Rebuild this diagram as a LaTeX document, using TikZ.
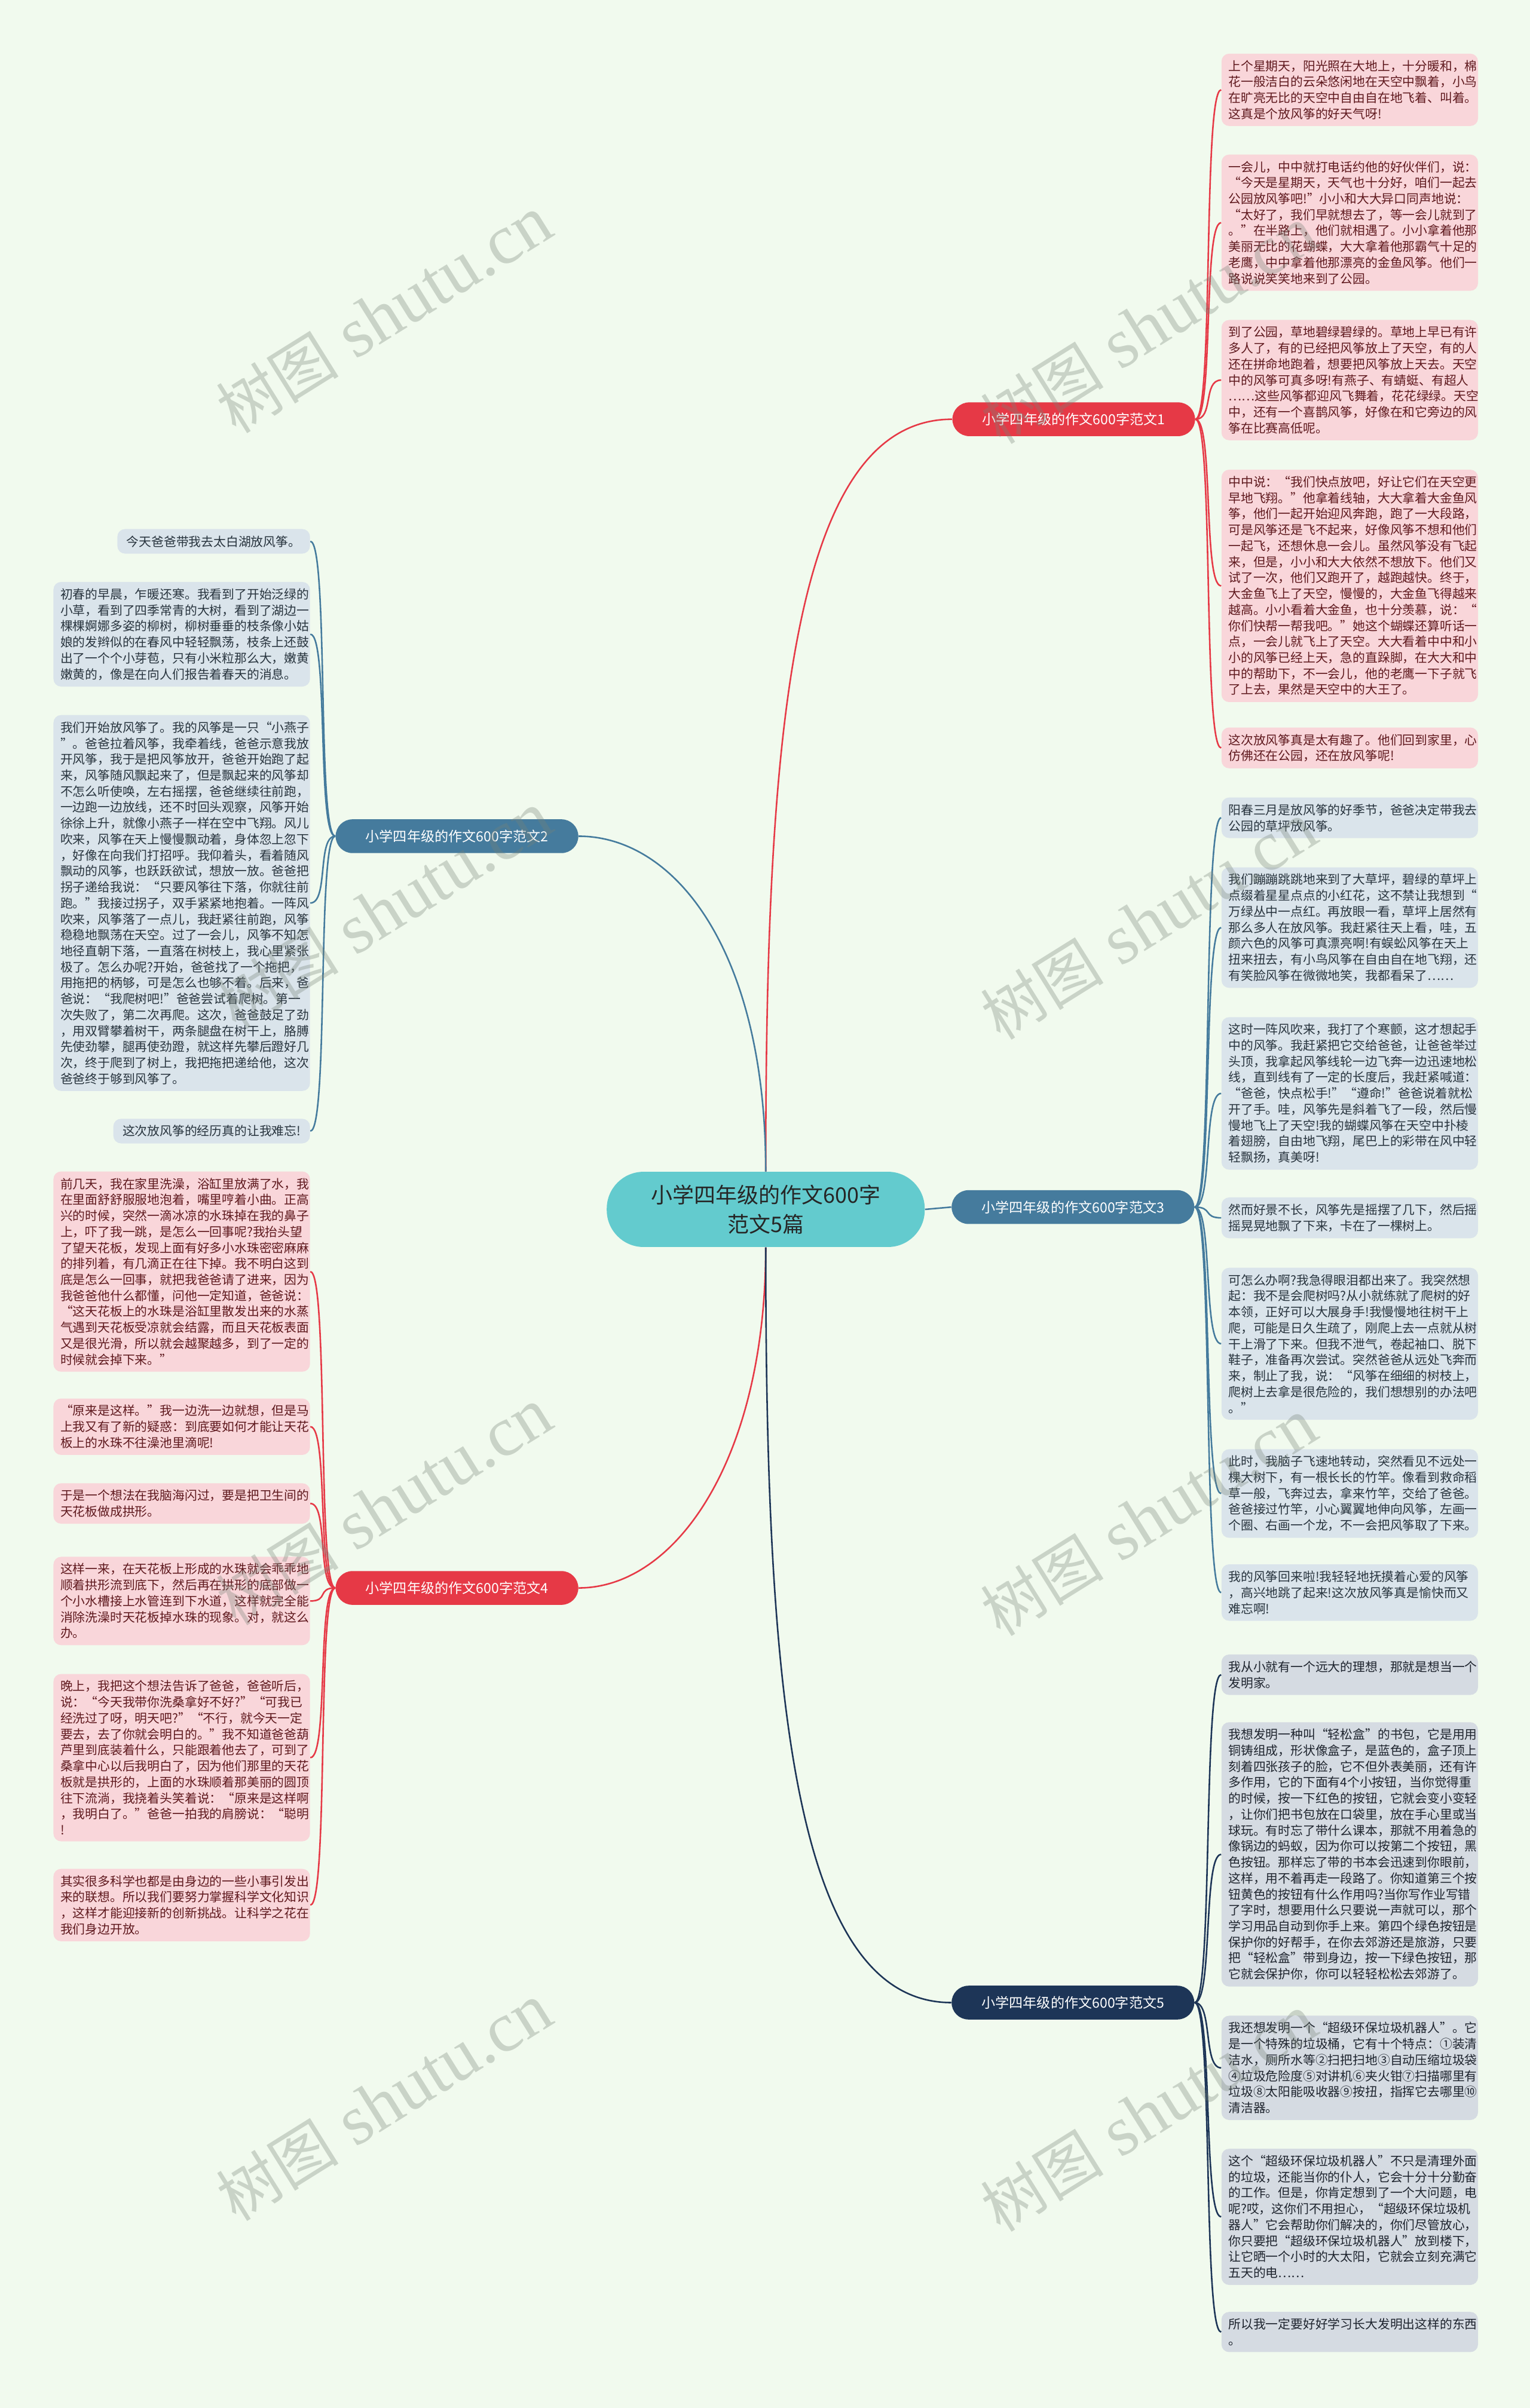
\documentclass[tikz,border=0pt]{standalone}
\usepackage{fontspec}
\setmainfont{Liberation Serif}
\newfontfamily\cjk{Noto Sans CJK SC}
\usetikzlibrary{backgrounds}
\definecolor{bgc}{RGB}{241,250,238}
\definecolor{redc}{RGB}{230,57,70}
\definecolor{bluec}{RGB}{69,123,157}
\definecolor{navyc}{RGB}{29,53,87}
\definecolor{tealc}{RGB}{99,203,206}
\definecolor{pinkfill}{RGB}{249,214,218}
\definecolor{bluefill}{RGB}{218,228,235}
\definecolor{grayfill}{RGB}{213,219,226}
\definecolor{pinktext}{RGB}{95,25,30}
\definecolor{bluetext}{RGB}{40,52,62}
\definecolor{graytext}{RGB}{30,36,46}
\definecolor{wmc}{RGB}{120,132,120}
\newcommand\leaffont{\cjk\fontsize{8.1pt}{10.4pt}\selectfont}
\tikzset{
  leafbase/.style={rounded corners=5pt, inner xsep=4.5pt, inner ysep=4.2pt, align=left, font=\leaffont},
  leafwide/.style={leafbase, text width=158pt},
  leafred/.style={leafwide, fill=pinkfill, text=pinktext},
  leafblue/.style={leafwide, fill=bluefill, text=bluetext},
  leafnavy/.style={leafwide, fill=grayfill, text=graytext},
  leafbluenarrow/.style={leafbase, inner xsep=6pt, fill=bluefill, text=bluetext},
  branchnode/.style={rounded corners=11pt, minimum width=158pt, minimum height=22pt, inner sep=0pt, text=white, font=\cjk\fontsize{9pt}{11pt}\selectfont},
  centernode/.style={rounded corners=24pt, minimum width=207pt, minimum height=49pt, inner sep=0pt, fill=tealc, text=black!85, align=center, font=\cjk\fontsize{14pt}{19pt}\selectfont},
  conn/.style={line width=1pt},
  wm/.style={rotate=32, text=wmc, opacity=0.33, font=\fontsize{46pt}{46pt}\selectfont}
}
\begin{document}
\begin{tikzpicture}[x=1pt,y=-1pt]
\useasboundingbox (0,0) rectangle (996,1568);
% center and branches
\node[centernode] (c) at (498.5,787.5) {小学四年级的作文600字\\范文5篇};
\node[branchnode, fill=redc] (b1) at (699,273) {小学四年级的作文600字范文1};
\node[branchnode, fill=bluec] (b2) at (297.5,544.5) {小学四年级的作文600字范文2};
\node[branchnode, fill=bluec] (b3) at (698.5,786) {小学四年级的作文600字范文3};
\node[branchnode, fill=redc] (b4) at (297.5,1034) {小学四年级的作文600字范文4};
\node[branchnode, fill=navyc] (b5) at (698.5,1304) {小学四年级的作文600字范文5};
% branch 1 leaves
\node[leafred, anchor=west] (r1a) at (795,58.5) {上个星期天，阳光照在大地上，十分暖和，棉\\花一般洁白的云朵悠闲地在天空中飘着，小鸟\\在旷亮无比的天空中自由自在地飞着、叫着。\\这真是个放风筝的好天气呀!};
\node[leafred, anchor=west] (r1b) at (795,145) {一会儿，中中就打电话约他的好伙伴们，说：\\“今天是星期天，天气也十分好，咱们一起去\\公园放风筝吧!”小小和大大异口同声地说：\\“太好了，我们早就想去了，等一会儿就到了\\。”在半路上，他们就相遇了。小小拿着他那\\美丽无比的花蝴蝶，大大拿着他那霸气十足的\\老鹰，中中拿着他那漂亮的金鱼风筝。他们一\\路说说笑笑地来到了公园。};
\node[leafred, anchor=west] (r1c) at (795,247.5) {到了公园，草地碧绿碧绿的。草地上早已有许\\多人了，有的已经把风筝放上了天空，有的人\\还在拼命地跑着，想要把风筝放上天去。天空\\中的风筝可真多呀!有燕子、有蜻蜓、有超人\\……这些风筝都迎风飞舞着，花花绿绿。天空\\中，还有一个喜鹊风筝，好像在和它旁边的风\\筝在比赛高低呢。};
\node[leafred, anchor=west] (r1d) at (795,381.5) {中中说：“我们快点放吧，好让它们在天空更\\早地飞翔。”他拿着线轴，大大拿着大金鱼风\\筝，他们一起开始迎风奔跑，跑了一大段路，\\可是风筝还是飞不起来，好像风筝不想和他们\\一起飞，还想休息一会儿。虽然风筝没有飞起\\来，但是，小小和大大依然不想放下。他们又\\试了一次，他们又跑开了，越跑越快。终于，\\大金鱼飞上了天空，慢慢的，大金鱼飞得越来\\越高。小小看着大金鱼，也十分羡慕，说：“\\你们快帮一帮我吧。”她这个蝴蝶还算听话一\\点，一会儿就飞上了天空。大大看着中中和小\\小的风筝已经上天，急的直跺脚，在大大和中\\中的帮助下，不一会儿，他的老鹰一下子就飞\\了上去，果然是天空中的大王了。};
\node[leafred, anchor=west] (r1e) at (795,487) {这次放风筝真是太有趣了。他们回到家里，心\\仿佛还在公园，还在放风筝呢!};
% branch 3 leaves
\node[leafblue, anchor=west] (r3a) at (795,532.5) {阳春三月是放风筝的好季节，爸爸决定带我去\\公园的草坪放风筝。};
\node[leafblue, anchor=west] (r3b) at (795,604) {我们蹦蹦跳跳地来到了大草坪，碧绿的草坪上\\点缀着星星点点的小红花，这不禁让我想到“\\万绿丛中一点红。再放眼一看，草坪上居然有\\那么多人在放风筝。我赶紧往天上看，哇，五\\颜六色的风筝可真漂亮啊!有蜈蚣风筝在天上\\扭来扭去，有小鸟风筝在自由自在地飞翔，还\\有笑脸风筝在微微地笑，我都看呆了……};
\node[leafblue, anchor=west] (r3c) at (795,712) {这时一阵风吹来，我打了个寒颤，这才想起手\\中的风筝。我赶紧把它交给爸爸，让爸爸举过\\头顶，我拿起风筝线轮一边飞奔一边迅速地松\\线，直到线有了一定的长度后，我赶紧喊道：\\“爸爸，快点松手!”“遵命!”爸爸说着就松\\开了手。哇，风筝先是斜着飞了一段，然后慢\\慢地飞上了天空!我的蝴蝶风筝在天空中扑棱\\着翅膀，自由地飞翔，尾巴上的彩带在风中轻\\轻飘扬，真美呀!};
\node[leafblue, anchor=west] (r3d) at (795,793) {然而好景不长，风筝先是摇摆了几下，然后摇\\摇晃晃地飘了下来，卡在了一棵树上。};
\node[leafblue, anchor=west] (r3e) at (795,875) {可怎么办啊?我急得眼泪都出来了。我突然想\\起：我不是会爬树吗?从小就练就了爬树的好\\本领，正好可以大展身手!我慢慢地往树干上\\爬，可能是日久生疏了，刚爬上去一点就从树\\干上滑了下来。但我不泄气，卷起袖口、脱下\\鞋子，准备再次尝试。突然爸爸从远处飞奔而\\来，制止了我，说：“风筝在细细的树枝上，\\爬树上去拿是很危险的，我们想想别的办法吧\\。”};
\node[leafblue, anchor=west] (r3f) at (795,972.5) {此时，我脑子飞速地转动，突然看见不远处一\\棵大树下，有一根长长的竹竿。像看到救命稻\\草一般，飞奔过去，拿来竹竿，交给了爸爸。\\爸爸接过竹竿，小心翼翼地伸向风筝，左画一\\个圈、右画一个龙，不一会把风筝取了下来。};
\node[leafblue, anchor=west] (r3g) at (795,1037) {我的风筝回来啦!我轻轻地抚摸着心爱的风筝\\，高兴地跳了起来!这次放风筝真是愉快而又\\难忘啊!};
% branch 5 leaves
\node[leafnavy, anchor=west] (r5a) at (795,1090.5) {我从小就有一个远大的理想，那就是想当一个\\发明家。};
\node[leafnavy, anchor=west] (r5b) at (795,1207.5) {我想发明一种叫“轻松盒”的书包，它是用用\\铜铸组成，形状像盒子，是蓝色的，盒子顶上\\刻着四张孩子的脸，它不但外表美丽，还有许\\多作用，它的下面有4个小按钮，当你觉得重\\的时候，按一下红色的按钮，它就会变小变轻\\，让你们把书包放在口袋里，放在手心里或当\\球玩。有时忘了带什么课本，那就不用着急的\\像锅边的蚂蚁，因为你可以按第二个按钮，黑\\色按钮。那样忘了带的书本会迅速到你眼前，\\这样，用不着再走一段路了。你知道第三个按\\钮黄色的按钮有什么作用吗?当你写作业写错\\了字时，想要用什么只要说一声就可以，那个\\学习用品自动到你手上来。第四个绿色按钮是\\保护你的好帮手，在你去郊游还是旅游，只要\\把“轻松盒”带到身边，按一下绿色按钮，那\\它就会保护你，你可以轻轻松松去郊游了。};
\node[leafnavy, anchor=west] (r5c) at (795,1346.5) {我还想发明一个“超级环保垃圾机器人”。它\\是一个特殊的垃圾桶，它有十个特点：①装清\\洁水，厕所水等②扫把扫地③自动压缩垃圾袋\\④垃圾危险度⑤对讲机⑥夹火钳⑦扫描哪里有\\垃圾⑧太阳能吸收器⑨按扭，指挥它去哪里⑩\\清洁器。};
\node[leafnavy, anchor=west] (r5d) at (795,1443.5) {这个“超级环保垃圾机器人”不只是清理外面\\的垃圾，还能当你的仆人，它会十分十分勤奋\\的工作。但是，你肯定想到了一个大问题，电\\呢?哎，这你们不用担心，“超级环保垃圾机\\器人”它会帮助你们解决的，你们尽管放心，\\你只要把“超级环保垃圾机器人”放到楼下，\\让它晒一个小时的大太阳，它就会立刻充满它\\五天的电……};
\node[leafnavy, anchor=west] (r5e) at (795,1518.5) {所以我一定要好好学习长大发明出这样的东西\\。};
% branch 2 leaves
\node[leafbluenarrow, anchor=east] (l2a) at (202,352.5) {今天爸爸带我去太白湖放风筝。};
\node[leafblue, anchor=east] (l2b) at (202,413) {初春的早晨，乍暖还寒。我看到了开始泛绿的\\小草，看到了四季常青的大树，看到了湖边一\\棵棵婀娜多姿的柳树，柳树垂垂的枝条像小姑\\娘的发辫似的在春风中轻轻飘荡，枝条上还鼓\\出了一个个小芽苞，只有小米粒那么大，嫩黄\\嫩黄的，像是在向人们报告着春天的消息。};
\node[leafblue, anchor=east] (l2c) at (202,588) {我们开始放风筝了。我的风筝是一只“小燕子\\”。爸爸拉着风筝，我牵着线，爸爸示意我放\\开风筝，我于是把风筝放开，爸爸开始跑了起\\来，风筝随风飘起来了，但是飘起来的风筝却\\不怎么听使唤，左右摇摆，爸爸继续往前跑，\\一边跑一边放线，还不时回头观察，风筝开始\\徐徐上升，就像小燕子一样在空中飞翔。风儿\\吹来，风筝在天上慢慢飘动着，身体忽上忽下\\，好像在向我们打招呼。我仰着头，看着随风\\飘动的风筝，也跃跃欲试，想放一放。爸爸把\\拐子递给我说：“只要风筝往下落，你就往前\\跑。”我接过拐子，双手紧紧地抱着。一阵风\\吹来，风筝落了一点儿，我赶紧往前跑，风筝\\稳稳地飘荡在天空。过了一会儿，风筝不知怎\\地径直朝下落，一直落在树枝上，我心里紧张\\极了。怎么办呢?开始，爸爸找了一个拖把，\\用拖把的柄够，可是怎么也够不着。后来，爸\\爸说：“我爬树吧!”爸爸尝试着爬树。第一\\次失败了，第二次再爬。这次，爸爸鼓足了劲\\，用双臂攀着树干，两条腿盘在树干上，胳膊\\先使劲攀，腿再使劲蹬，就这样先攀后蹬好几\\次，终于爬到了树上，我把拖把递给他，这次\\爸爸终于够到风筝了。};
\node[leafbluenarrow, anchor=east] (l2d) at (202,736.5) {这次放风筝的经历真的让我难忘!};
% branch 4 leaves
\node[leafred, anchor=east] (l4a) at (202,828) {前几天，我在家里洗澡，浴缸里放满了水，我\\在里面舒舒服服地泡着，嘴里哼着小曲。正高\\兴的时候，突然一滴冰凉的水珠掉在我的鼻子\\上，吓了我一跳，是怎么一回事呢?我抬头望\\了望天花板，发现上面有好多小水珠密密麻麻\\的排列着，有几滴正在往下掉。我不明白这到\\底是怎么一回事，就把我爸爸请了进来，因为\\我爸爸他什么都懂，问他一定知道，爸爸说：\\“这天花板上的水珠是浴缸里散发出来的水蒸\\气遇到天花板受凉就会结露，而且天花板表面\\又是很光滑，所以就会越聚越多，到了一定的\\时候就会掉下来。”};
\node[leafred, anchor=east] (l4b) at (202,929) {“原来是这样。”我一边洗一边就想，但是马\\上我又有了新的疑惑：到底要如何才能让天花\\板上的水珠不往澡池里滴呢!};
\node[leafred, anchor=east] (l4c) at (202,979) {于是一个想法在我脑海闪过，要是把卫生间的\\天花板做成拱形。};
\node[leafred, anchor=east] (l4d) at (202,1042.5) {这样一来，在天花板上形成的水珠就会乖乖地\\顺着拱形流到底下，然后再在拱形的底部做一\\个小水槽接上水管连到下水道，这样就完全能\\消除洗澡时天花板掉水珠的现象。对，就这么\\办。};
\node[leafred, anchor=east] (l4e) at (202,1144.5) {晚上，我把这个想法告诉了爸爸，爸爸听后，\\说：“今天我带你洗桑拿好不好?”“可我已\\经洗过了呀，明天吧?”“不行，就今天一定\\要去，去了你就会明白的。”我不知道爸爸葫\\芦里到底装着什么，只能跟着他去了，可到了\\桑拿中心以后我明白了，因为他们那里的天花\\板就是拱形的，上面的水珠顺着那美丽的圆顶\\往下流淌，我挠着头笑着说：“原来是这样啊\\，我明白了。”爸爸一拍我的肩膀说：“聪明\\!};
\node[leafred, anchor=east] (l4f) at (202,1240.5) {其实很多科学也都是由身边的一些小事引发出\\来的联想。所以我们要努力掌握科学文化知识\\，这样才能迎接新的创新挑战。让科学之花在\\我们身边开放。};
\begin{pgfonlayer}{background}
\fill[bgc] (0,0) rectangle (996,1568);
% center to branches
\draw[conn, redc] (c.north) .. controls (498.5,480) and (515,273) .. (b1.west);
\draw[conn, bluec] (c.north) .. controls (498.5,620) and (440,544.5) .. (b2.east);
\draw[conn, bluec] (c.east) -- (b3.west);
\draw[conn, redc] (c.south) .. controls (498.5,950) and (440,1034) .. (b4.east);
\draw[conn, navyc] (c.south) .. controls (498.5,1095) and (515,1304) .. (b5.west);
% branch leaves
\foreach \n in {r1a,r1b,r1c,r1d,r1e}
  \draw[conn, redc] (b1.east) .. controls +(12,0) and +(-12,0) .. (\n.west);
\foreach \n in {r3a,r3b,r3c,r3d,r3e,r3f,r3g}
  \draw[conn, bluec] (b3.east) .. controls +(12,0) and +(-12,0) .. (\n.west);
\foreach \n in {r5a,r5b,r5c,r5d,r5e}
  \draw[conn, navyc] (b5.east) .. controls +(12,0) and +(-12,0) .. (\n.west);
\foreach \n in {l2a,l2b,l2c,l2d}
  \draw[conn, bluec] (b2.west) .. controls +(-12,0) and +(12,0) .. (\n.east);
\foreach \n in {l4a,l4b,l4c,l4d,l4e,l4f}
  \draw[conn, redc] (b4.west) .. controls +(-12,0) and +(12,0) .. (\n.east);
\end{pgfonlayer}
% watermarks
\node[wm] (wm1) at (250,205) {{\cjk\fontsize{40pt}{40pt}\selectfont 树图} shutu.cn};
\node[wm] (wm2) at (250,593) {{\cjk\fontsize{40pt}{40pt}\selectfont 树图} shutu.cn};
\node[wm] (wm3) at (250,981) {{\cjk\fontsize{40pt}{40pt}\selectfont 树图} shutu.cn};
\node[wm] (wm4) at (250,1369) {{\cjk\fontsize{40pt}{40pt}\selectfont 树图} shutu.cn};
\node[wm] (wm5) at (748,212) {{\cjk\fontsize{40pt}{40pt}\selectfont 树图} shutu.cn};
\node[wm] (wm6) at (748,600) {{\cjk\fontsize{40pt}{40pt}\selectfont 树图} shutu.cn};
\node[wm] (wm7) at (748,988) {{\cjk\fontsize{40pt}{40pt}\selectfont 树图} shutu.cn};
\node[wm] (wm8) at (748,1376) {{\cjk\fontsize{40pt}{40pt}\selectfont 树图} shutu.cn};
\end{tikzpicture}
\end{document}
